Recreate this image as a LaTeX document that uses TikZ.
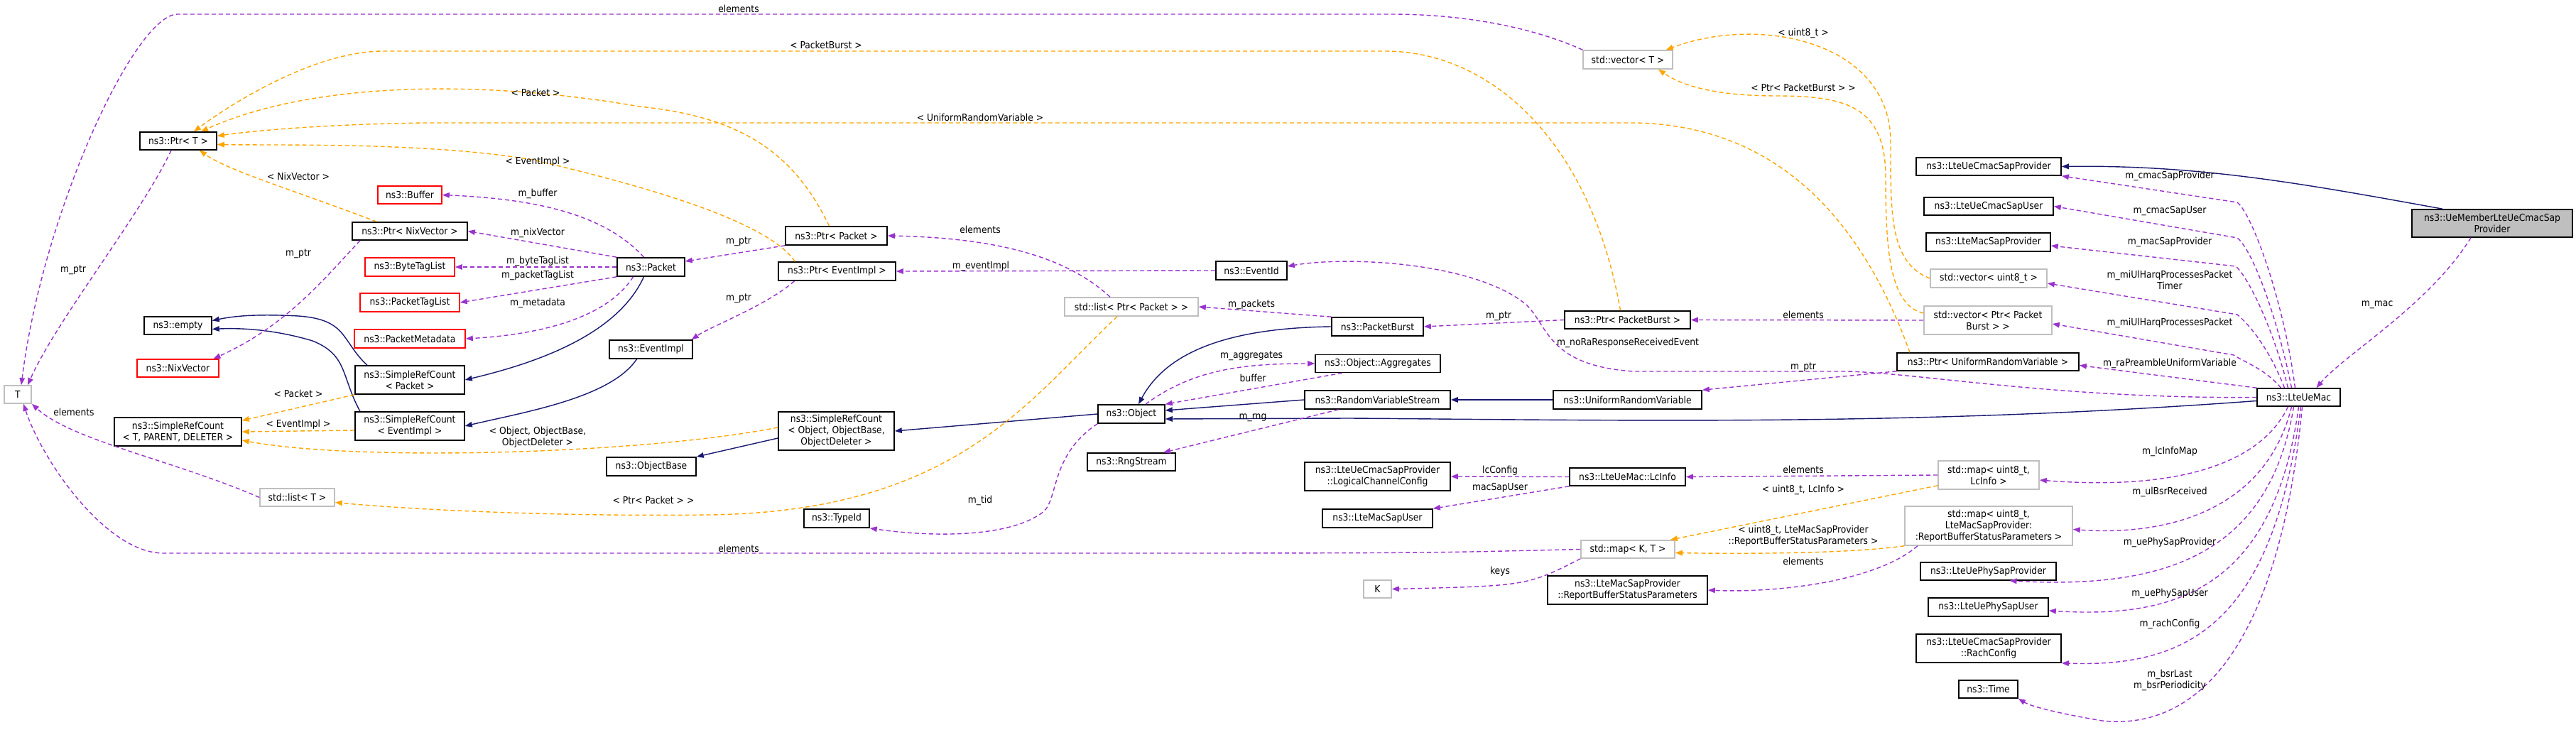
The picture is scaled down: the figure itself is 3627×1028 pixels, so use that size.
\documentclass[tikz,border=0pt]{standalone}
\usepackage{fontspec}
\setmainfont{DejaVu Sans Condensed}
\usetikzlibrary{arrows.meta}
\definecolor{memcol}{HTML}{9A32CD}
\definecolor{tplcol}{HTML}{FFA500}
\definecolor{inhcol}{HTML}{191970}
\definecolor{greyline}{HTML}{BFBFBF}
\tikzset{
  cls/.style={draw=black, line width=0.45pt, inner sep=1pt, align=center,
    font=\fontsize{3.9}{4.6}\selectfont},
  tcls/.style={cls, draw=greyline},
  rcls/.style={cls, draw=red},
  me/.style={cls, fill=greyline},
  sz/.style 2 args={minimum width=#1*0.01cm, minimum height=#2*0.01cm},
  lbl/.style={inner sep=0pt, align=center, font=\fontsize{3.9}{4.6}\selectfont},
  mem/.style={draw=memcol, line width=0.4pt, dash pattern=on 0.06cm off 0.04cm,
    -{Triangle[length=0.1cm, width=0.075cm]}},
  tpl/.style={draw=tplcol, line width=0.4pt, dash pattern=on 0.06cm off 0.04cm,
    -{Triangle[length=0.1cm, width=0.075cm]}},
  inh/.style={draw=inhcol, line width=0.4pt,
    -{Triangle[length=0.1cm, width=0.075cm]}}
}
\begin{document}
\begin{tikzpicture}[x=0.01cm, y=-0.01cm]
  \useasboundingbox (0,0) rectangle (3627,1028);
  % classes, left part
  \node[cls, sz={108}{25}] (ptrt) at (251,198.5) {ns3::Ptr< T >};
  \node[tcls, sz={38}{25}] (t) at (25,555.5) {T};
  \node[rcls, sz={90}{25}] (buffer) at (577,274.5) {ns3::Buffer};
  \node[cls, sz={162}{25}] (ptrnix) at (577,325.5) {ns3::Ptr< NixVector >};
  \node[rcls, sz={126}{26}] (bytetag) at (577,376) {ns3::ByteTagList};
  \node[rcls, sz={140}{26}] (pkttag) at (577,426) {ns3::PacketTagList};
  \node[rcls, sz={156}{26}] (pktmeta) at (577,477) {ns3::PacketMetadata};
  \node[cls, sz={95}{25}] (empty) at (250.5,458.5) {ns3::empty};
  \node[rcls, sz={115}{25}] (nixvec) at (250.5,518.5) {ns3::NixVector};
  \node[cls, sz={95}{26}] (packet) at (916.5,376) {ns3::Packet};
  \node[cls, sz={117}{26}] (evimpl) at (916.5,492) {ns3::EventImpl};
  \node[cls, sz={154}{40}] (srcpkt) at (577,535) {ns3::SimpleRefCount\\< Packet >};
  \node[cls, sz={154}{40}] (srcev) at (577,600) {ns3::SimpleRefCount\\< EventImpl >};
  \node[cls, sz={179}{40}] (srct) at (250.5,608) {ns3::SimpleRefCount\\< T, PARENT, DELETER >};
  \node[cls, sz={163}{54}] (srcobj) at (1177.5,607) {ns3::SimpleRefCount\\< Object, ObjectBase,\\ ObjectDeleter >};
  \node[cls, sz={126}{26}] (objbase) at (917,657) {ns3::ObjectBase};
  \node[tcls, sz={105}{25}] (listt) at (418.5,700.5) {std::list< T >};
  \node[cls, sz={92}{26}] (typeid) at (1178,730) {ns3::TypeId};
  \node[cls, sz={143}{26}] (ptrpkt) at (1177.5,332) {ns3::Ptr< Packet >};
  \node[cls, sz={165}{26}] (ptrev) at (1178.5,382) {ns3::Ptr< EventImpl >};
  % classes, middle part
  \node[cls, sz={100}{26}] (evid) at (1762,381) {ns3::EventId};
  \node[tcls, sz={188}{26}] (listpp) at (1593,432) {std::list< Ptr< Packet > >};
  \node[cls, sz={129}{26}] (pburst) at (1939.5,460) {ns3::PacketBurst};
  \node[cls, sz={176}{25}] (aggr) at (1940,512) {ns3::Object::Aggregates};
  \node[cls, sz={94}{26}] (object) at (1593,583) {ns3::Object};
  \node[cls, sz={205}{26}] (rvs) at (1939.5,563) {ns3::RandomVariableStream};
  \node[cls, sz={209}{26}] (urv) at (2291.5,563) {ns3::UniformRandomVariable};
  \node[cls, sz={124}{25}] (rng) at (1593,650.5) {ns3::RngStream};
  \node[cls, sz={205}{40}] (lcc) at (1939.5,671) {ns3::LteUeCmacSapProvider\\::LogicalChannelConfig};
  \node[cls, sz={155}{26}] (macuser) at (1939.5,730) {ns3::LteMacSapUser};
  \node[tcls, sz={39}{25}] (k) at (1939.5,829.5) {K};
  \node[cls, sz={163}{25}] (lcinfo) at (2291.5,671.5) {ns3::LteUeMac::LcInfo};
  \node[tcls, sz={132}{25}] (mapkt) at (2292,773.5) {std::map< K, T >};
  \node[cls, sz={225}{40}] (rbsp) at (2291.5,831) {ns3::LteMacSapProvider\\::ReportBufferStatusParameters};
  \node[tcls, sz={126}{26}] (vect) at (2292,84) {std::vector< T >};
  \node[cls, sz={177}{25}] (ptrpb) at (2291.5,450.5) {ns3::Ptr< PacketBurst >};
  % classes, right part
  \node[cls, sz={204}{25}] (cmacprov) at (2800,234.5) {ns3::LteUeCmacSapProvider};
  \node[cls, sz={182}{25}] (cmacuser) at (2800,290.5) {ns3::LteUeCmacSapUser};
  \node[cls, sz={175}{26}] (macprov) at (2799.5,341) {ns3::LteMacSapProvider};
  \node[tcls, sz={164}{26}] (vecu8) at (2800,392) {std::vector< uint8\_t >};
  \node[tcls, sz={180}{40}] (vecppb) at (2799,451) {std::vector< Ptr< Packet\\Burst > >};
  \node[cls, sz={256}{25}] (ptrurv) at (2799,509.5) {ns3::Ptr< UniformRandomVariable >};
  \node[me, sz={226}{39}] (uemember) at (3509,314.5) {ns3::UeMemberLteUeCmacSap\\Provider};
  \node[cls, sz={117}{25}] (uemac) at (3236.5,559.5) {ns3::LteUeMac};
  \node[tcls, sz={142}{40}] (maplc) at (2800,669) {std::map< uint8\_t,\\LcInfo >};
  \node[tcls, sz={236}{55}] (maprb) at (2800,740.5) {std::map< uint8\_t,\\LteMacSapProvider:\\:ReportBufferStatusParameters >};
  \node[cls, sz={191}{25}] (phyprov) at (2799.5,804.5) {ns3::LteUePhySapProvider};
  \node[cls, sz={169}{26}] (phyuser) at (2799.5,855) {ns3::LteUePhySapUser};
  \node[cls, sz={204}{40}] (rach) at (2800,913) {ns3::LteUeCmacSapProvider\\::RachConfig};
  \node[cls, sz={83}{25}] (time) at (2799.5,970.5) {ns3::Time};

  % inheritance
  \draw[inh] ([xshift=-0.1cm]packet.south) .. controls (870,470) and (760,510) .. (srcpkt.east);
  \draw[inh] ([xshift=-0.6cm]srcpkt.north) .. controls (480,480) and (490,450) .. (420,445) .. controls (360,442) and (330,445) .. ([yshift=0.07cm]empty.east);
  \draw[inh] ([xshift=-0.7cm]srcev.north) .. controls (480,530) and (490,500) .. (440,480) .. controls (380,462) and (330,462) .. ([yshift=-0.05cm]empty.east);
  \draw[inh] ([xshift=-0.2cm]evimpl.south) .. controls (860,560) and (740,580) .. (srcev.east);
  \draw[inh] ([yshift=-0.1cm]srcobj.west) -- (objbase.north east);
  \draw[inh] (object.west) -- (srcobj.east);
  \draw[inh] (pburst.west) .. controls (1720,462) and (1640,500) .. ([xshift=0.1cm]object.north);
  \draw[inh] (rvs.west) -- ([yshift=0.05cm]object.east);
  \draw[inh] (urv.west) -- (rvs.east);
  \draw[inh] ([yshift=-0.05cm]uemac.west) .. controls (2700,600) and (2300,592) .. (1900,589) -- ([yshift=-0.07cm]object.east);
  \draw[inh] ([xshift=-0.7cm]uemember.north) .. controls (3250,260) and (3100,232) .. (cmacprov.east);

  % template instances
  \draw[tpl] ([xshift=-0.1cm]ptrpb.north) .. controls (2240,200) and (2100,72) .. (1950,72) -- (540,72) .. controls (440,72) and (320,150) .. ([xshift=0.22cm]ptrt.north);
  \draw[tpl] ([xshift=-0.1cm]ptrpkt.north) .. controls (1120,220) and (1050,165) .. (900,150) .. controls (700,115) and (450,110) .. ([xshift=0.32cm]ptrt.north);
  \draw[tpl] ([xshift=-1.1cm]ptrurv.north) .. controls (2600,250) and (2450,175) .. (2300,173) -- (600,173) .. controls (450,175) and (350,185) .. ([yshift=0.07cm]ptrt.east);
  \draw[tpl] ([xshift=0.24cm]ptrev.north west) .. controls (1080,310) and (900,260) .. (750,225) .. controls (600,200) and (400,205) .. ([yshift=-0.05cm]ptrt.east);
  \draw[tpl] ([xshift=0.35cm]ptrnix.north west) .. controls (420,270) and (320,240) .. ([xshift=0.3cm]ptrt.south);
  \draw[tpl] (vecu8.west) .. controls (2660,370) and (2662,300) .. (2662,200) .. controls (2662,60) and (2480,20) .. ([xshift=-0.1cm]vect.north east);
  \draw[tpl] ([yshift=0.1cm]vecppb.west) .. controls (2660,430) and (2655,350) .. (2655,250) .. controls (2655,150) and (2600,135) .. (2500,135) .. controls (2400,135) and (2360,115) .. ([xshift=0.43cm]vect.south);
  \draw[tpl] (srcpkt.south west) -- ([yshift=-0.05cm]srct.north east);
  \draw[tpl] ([yshift=-0.06cm]srcev.west) -- (srct.east);
  \draw[tpl] ([yshift=0.05cm]srcobj.west) .. controls (900,640) and (500,650) .. ([yshift=-0.12cm]srct.east);
  \draw[tpl] ([xshift=-0.2cm]listpp.south) .. controls (1450,560) and (1350,720) .. (1000,725) .. controls (750,728) and (550,715) .. ([yshift=-0.07cm]listt.east);
  \draw[tpl] ([yshift=0.06cm]maplc.south west) -- ([xshift=-0.07cm]mapkt.north east);
  \draw[tpl] (maprb.south west) .. controls (2600,780) and (2450,780) .. ([yshift=-0.05cm]mapkt.east);

  % members
  \draw[mem] (vect.north west) .. controls (2150,35) and (2050,20) .. (1960,20) -- (250,20) .. controls (190,20) and (60,300) .. ([xshift=0.05cm]t.north);
  \draw[mem] ([xshift=-0.1cm]ptrt.south) .. controls (200,300) and (80,450) .. ([xshift=0.14cm]t.north);
  \draw[mem] (listt.west) .. controls (250,650) and (100,620) .. ([xshift=0.2cm]t.south);
  \draw[mem] (mapkt.west) .. controls (2000,779) .. (1500,779) -- (230,779) .. controls (150,779) and (60,650) .. ([xshift=0.08cm]t.south);
  \draw[mem] ([xshift=-0.1cm]packet.north) .. controls (850,300) and (750,280) .. (buffer.east);
  \draw[mem] (packet.north west) -- (ptrnix.east);
  \draw[mem] (packet.west) -- (bytetag.east);
  \draw[mem] (packet.south west) -- (pkttag.east);
  \draw[mem] ([xshift=-0.25cm]packet.south) .. controls (860,440) and (780,470) .. (pktmeta.east);
  \draw[mem] ([xshift=-0.7cm]ptrnix.south) .. controls (450,400) and (400,460) .. ([xshift=0.5cm]nixvec.north);
  \draw[mem] (ptrpkt.south west) -- ([yshift=0.08cm]packet.east);
  \draw[mem] ([xshift=-0.6cm]ptrev.south) .. controls (1080,430) and (1000,460) .. ([xshift=-0.02cm]evimpl.north east);
  \draw[mem] (evid.west) -- (ptrev.east);
  \draw[mem] ([xshift=-0.3cm]listpp.north) .. controls (1500,360) and (1400,335) .. (ptrpkt.east);
  \draw[mem] (pburst.north west) -- (listpp.east);
  \draw[mem] (ptrpb.west) -- (pburst.east);
  \draw[mem] (uemac.west) .. controls (2900,562) and (2700,525) .. (2600,523) -- (2300,523) .. controls (2180,515) and (2180,460) .. (2150,430) .. controls (2080,370) and (1900,360) .. ([yshift=0.06cm]evid.east);
  \draw[mem] ([xshift=0.2cm]object.north) .. controls (1680,520) and (1750,512) .. (aggr.west);
  \draw[mem] ([xshift=-0.5cm]aggr.south) -- (object.north east);
  \draw[mem] ([xshift=-0.55cm]rvs.south) -- ([xshift=0.45cm]rng.north);
  \draw[mem] (object.south west) .. controls (1480,640) and (1490,700) .. (1470,720) .. controls (1420,760) and (1300,755) .. (typeid.south east);
  \draw[mem] (lcinfo.west) -- (lcc.east);
  \draw[mem] (lcinfo.south west) -- (macuser.north east);
  \draw[mem] (maplc.west) -- (lcinfo.east);
  \draw[mem] (mapkt.south west) .. controls (2150,825) .. (k.east);
  \draw[mem] ([xshift=-1cm]maprb.south) .. controls (2640,820) and (2500,835) .. (rbsp.east);
  \draw[mem] (vecppb.west) -- (ptrpb.east);
  \draw[mem] (ptrurv.south west) -- (urv.north east);
  \draw[mem] ([xshift=-0.3cm]uemember.south) .. controls (3420,430) and (3300,500) .. ([xshift=0.25cm]uemac.north);
  % members of LteUeMac, upward
  \draw[mem] ([xshift=-0.05cm]uemac.north) .. controls (3215,420) and (3170,300) .. (3150,285) -- (cmacprov.south east);
  \draw[mem] ([xshift=-0.1cm]uemac.north) .. controls (3205,440) and (3170,350) .. (3150,335) -- (cmacuser.east);
  \draw[mem] ([xshift=-0.15cm]uemac.north) .. controls (3200,460) and (3165,390) .. (3148,375) -- ([yshift=-0.05cm]macprov.east);
  \draw[mem] ([xshift=-0.2cm]uemac.north) .. controls (3195,490) and (3165,455) .. (3150,443) -- ([yshift=-0.07cm]vecu8.east);
  \draw[mem] ([xshift=-0.25cm]uemac.north) .. controls (3190,520) and (3160,510) .. (3145,500) -- ([yshift=-0.05cm]vecppb.east);
  \draw[mem] (uemac.north west) -- ([yshift=-0.05cm]ptrurv.east);
  % members of LteUeMac, downward
  \draw[mem] ([xshift=-0.15cm]uemac.south) .. controls (3180,660) and (3050,690) .. ([yshift=-0.07cm]maplc.east);
  \draw[mem] ([xshift=-0.1cm]uemac.south) .. controls (3190,720) and (3050,755) .. ([yshift=-0.05cm]maprb.east);
  \draw[mem] ([xshift=-0.07cm]uemac.south) .. controls (3195,780) and (3050,830) .. ([xshift=0.3cm]phyprov.south);
  \draw[mem] (uemac.south) .. controls (3200,840) and (3050,870) .. ([yshift=-0.05cm]phyuser.east);
  \draw[mem] ([xshift=0.03cm]uemac.south) .. controls (3200,880) and (3080,940) .. (rach.south east);
  \draw[mem] ([xshift=0.05cm]uemac.south) .. controls (3210,900) and (3100,1030) .. (2960,1015) .. controls (2900,1005) and (2860,995) .. (time.south east);

  % labels
  \node[lbl] (l1) at (1040,12) {elements};
  \node[lbl] (l2) at (103,380) {m\_ptr};
  \node[lbl] (l3) at (104,580) {elements};
  \node[lbl] (l4) at (1040,772) {elements};
  \node[lbl] (l5) at (757,273) {m\_buffer};
  \node[lbl] (l6) at (757,328) {m\_nixVector};
  \node[lbl] (l7) at (757,368) {m\_byteTagList};
  \node[lbl] (l8) at (757,388) {m\_packetTagList};
  \node[lbl] (l9) at (757,427) {m\_metadata};
  \node[lbl] (l10) at (420,357) {m\_ptr};
  \node[lbl] (l11) at (1040,340) {m\_ptr};
  \node[lbl] (l12) at (1040,420) {m\_ptr};
  \node[lbl] (l13) at (1381,375) {m\_eventImpl};
  \node[lbl] (l14) at (1380,323) {elements};
  \node[lbl] (l15) at (1762,429) {m\_packets};
  \node[lbl] (l16) at (2110,445) {m\_ptr};
  \node[lbl] (l17) at (2292,483) {m\_noRaResponseReceivedEvent};
  \node[lbl] (l18) at (1762,501) {m\_aggregates};
  \node[lbl] (l19) at (1764,532) {buffer};
  \node[lbl] (l20) at (1764,588) {m\_rng};
  \node[lbl] (l21) at (1380,705) {m\_tid};
  \node[lbl] (l22) at (2112,663) {lcConfig};
  \node[lbl] (l23) at (2112,687) {macSapUser};
  \node[lbl] (l24) at (2539,661) {elements};
  \node[lbl] (l25) at (2112,805) {keys};
  \node[lbl] (l26) at (2539,790) {elements};
  \node[lbl] (l27) at (2539,443) {elements};
  \node[lbl] (l28) at (2539,517) {m\_ptr};
  \node[lbl] (l29) at (3347,429) {m\_mac};
  \node[lbl] (l30) at (3055,248) {m\_cmacSapProvider};
  \node[lbl] (l31) at (3055,297) {m\_cmacSapUser};
  \node[lbl] (l32) at (3055,341) {m\_macSapProvider};
  \node[lbl] (l33) at (3055,394) {m\_miUlHarqProcessesPacket\\Timer};
  \node[lbl] (l34) at (3055,455) {m\_miUlHarqProcessesPacket};
  \node[lbl] (l35) at (3055,512) {m\_raPreambleUniformVariable};
  \node[lbl] (l36) at (3055,636) {m\_lcInfoMap};
  \node[lbl] (l37) at (3055,693) {m\_ulBsrReceived};
  \node[lbl] (l38) at (3055,764) {m\_uePhySapProvider};
  \node[lbl] (l39) at (3055,836) {m\_uePhySapUser};
  \node[lbl] (l40) at (3055,879) {m\_rachConfig};
  \node[lbl] (l41) at (3055,958) {m\_bsrLast\\m\_bsrPeriodicity};
  \node[lbl] (l42) at (1163,63) {< PacketBurst >};
  \node[lbl] (l43) at (754,130) {< Packet >};
  \node[lbl] (l44) at (1380,165) {< UniformRandomVariable >};
  \node[lbl] (l45) at (757,228) {< EventImpl >};
  \node[lbl] (l46) at (420,248) {< NixVector >};
  \node[lbl] (l47) at (2539,47) {< uint8\_t >};
  \node[lbl] (l48) at (2539,123) {< Ptr< PacketBurst > >};
  \node[lbl] (l49) at (420,554) {< Packet >};
  \node[lbl] (l50) at (420,598) {< EventImpl >};
  \node[lbl] (l51) at (757,616) {< Object, ObjectBase,\\ObjectDeleter >};
  \node[lbl] (l52) at (920,704) {< Ptr< Packet > >};
  \node[lbl] (l53) at (2539,690) {< uint8\_t, LcInfo >};
  \node[lbl] (l54) at (2539,755) {< uint8\_t, LteMacSapProvider\\::ReportBufferStatusParameters >};
\end{tikzpicture}
\end{document}
